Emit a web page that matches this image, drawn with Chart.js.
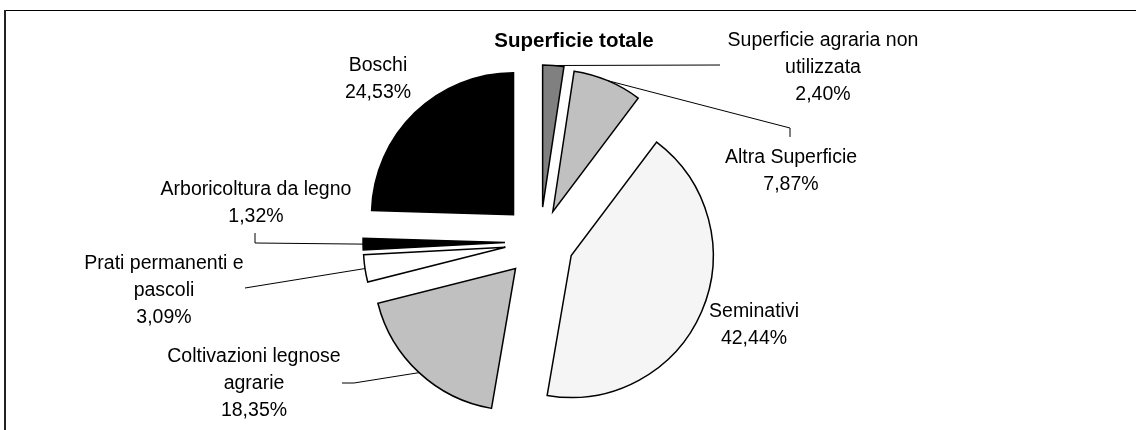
<!DOCTYPE html>
<html>
<head>
<meta charset="utf-8">
<script src="https://cdn.jsdelivr.net/npm/chart.js@4"></script>
<style>
    html, body { margin: 0; padding: 0; background: #ffffff; }
    canvas { display: block; }
</style>
</head>
<body>
<canvas id="pieChart" width="1136" height="430"></canvas>
<script>
const chartTitle = 'Superficie totale';
const categories = [
    'Superficie agraria non utilizzata',
    'Altra Superficie',
    'Seminativi',
    'Coltivazioni legnose agrarie',
    'Prati permanenti e pascoli',
    'Arboricoltura da legno',
    'Boschi'
];
const shares = [2.40, 7.87, 42.44, 18.35, 3.09, 1.32, 24.53];

const sliceColors = ['#808080', '#c0c0c0', '#f5f5f5', '#c0c0c0', '#ffffff', '#000000', '#000000'];
const explode = [35, 33, 34, 36, 35, 35, 38]; // px each slice is pulled out

// where each label sits: centre x, first baseline, wrap width, leader elbows
const labelLayout = [
    { x: 823, y: 46, wrap: 215, leader: [[720, 65]] },
    { x: 791, y: 163, wrap: 215, leader: [[790, 128], [790, 137]] },
    { x: 754, y: 317, wrap: 215, leader: null },
    { x: 254, y: 362, wrap: 185, leader: [[354, 383], [342, 383]] },
    { x: 164, y: 269, wrap: 170, leader: [[245, 288]] },
    { x: 256, y: 195, wrap: 215, leader: [[255, 243], [255, 233]] },
    { x: 378, y: 71, wrap: 215, leader: null }
];

const FONT = "'Liberation Sans', Arial, sans-serif";
const LINE_H = 27;

function fmtPct(v) {
    return v.toFixed(2).replace('.', ',') + '%';
}

function wrapText(ctx, text, maxWidth) {
    const words = text.split(' ');
    const lines = [];
    let cur = '';
    words.forEach(w => {
        const test = cur ? cur + ' ' + w : w;
        if (cur && ctx.measureText(test).width > maxWidth) {
            lines.push(cur);
            cur = w;
        } else {
            cur = test;
        }
    });
    if (cur) lines.push(cur);
    return lines;
}

// pull every slice out along its bisector after Chart.js has laid them out
const explodePlugin = {
    id: 'explode',
    afterDatasetUpdate(chart, args) {
        args.meta.data.forEach((arc, i) => {
            const mid = (arc.startAngle + arc.endAngle) / 2;
            arc.x += Math.cos(mid) * explode[i];
            arc.y += Math.sin(mid) * explode[i];
        });
    }
};

const framePlugin = {
    id: 'frame',
    beforeDraw(chart) {
        const ctx = chart.ctx;
        ctx.save();
        ctx.fillStyle = '#000000';
        ctx.fillRect(4, 10, chart.width - 4, 1);
        ctx.fillStyle = '#222222';
        ctx.fillRect(4, 10, 2, chart.height - 10);
        ctx.restore();
    }
};

const labelPlugin = {
    id: 'sliceLabels',
    afterDatasetsDraw(chart) {
        const ctx = chart.ctx;
        const arcs = chart.getDatasetMeta(0).data;
        ctx.save();

        // leader lines
        ctx.strokeStyle = '#000000';
        ctx.lineWidth = 1;
        arcs.forEach((arc, i) => {
            const lay = labelLayout[i];
            if (!lay.leader) return;
            const mid = (arc.startAngle + arc.endAngle) / 2;
            ctx.beginPath();
            ctx.moveTo(arc.x + Math.cos(mid) * arc.outerRadius, arc.y + Math.sin(mid) * arc.outerRadius);
            lay.leader.forEach(p => ctx.lineTo(p[0], p[1]));
            ctx.stroke();
        });

        // labels
        ctx.fillStyle = '#000000';
        ctx.textAlign = 'center';
        ctx.textBaseline = 'alphabetic';
        ctx.font = '19.5px ' + FONT;
        categories.forEach((name, i) => {
            const lay = labelLayout[i];
            const lines = wrapText(ctx, name, lay.wrap);
            lines.push(fmtPct(shares[i]));
            lines.forEach((ln, k) => ctx.fillText(ln, lay.x, lay.y + k * LINE_H));
        });

        // title
        ctx.font = 'bold 20.5px ' + FONT;
        ctx.fillText(chartTitle, 574, 47);
        ctx.restore();
    }
};

document.addEventListener('DOMContentLoaded', function() {
    const ctx = document.getElementById('pieChart').getContext('2d');
    new Chart(ctx, {
        type: 'pie',
        data: {
            labels: categories,
            datasets: [{
                data: shares,
                backgroundColor: sliceColors,
                borderColor: '#000000',
                borderWidth: 1.5,
                borderJoinStyle: 'miter'
            }]
        },
        options: {
            responsive: false,
            animation: false,
            radius: 142,
            layout: { padding: { left: 0, right: 56, top: 54, bottom: 0 } },
            plugins: {
                legend: { display: false },
                title: { display: false },
                tooltip: { enabled: false }
            }
        },
        plugins: [framePlugin, explodePlugin, labelPlugin]
    });
});
</script>
</body>
</html>
